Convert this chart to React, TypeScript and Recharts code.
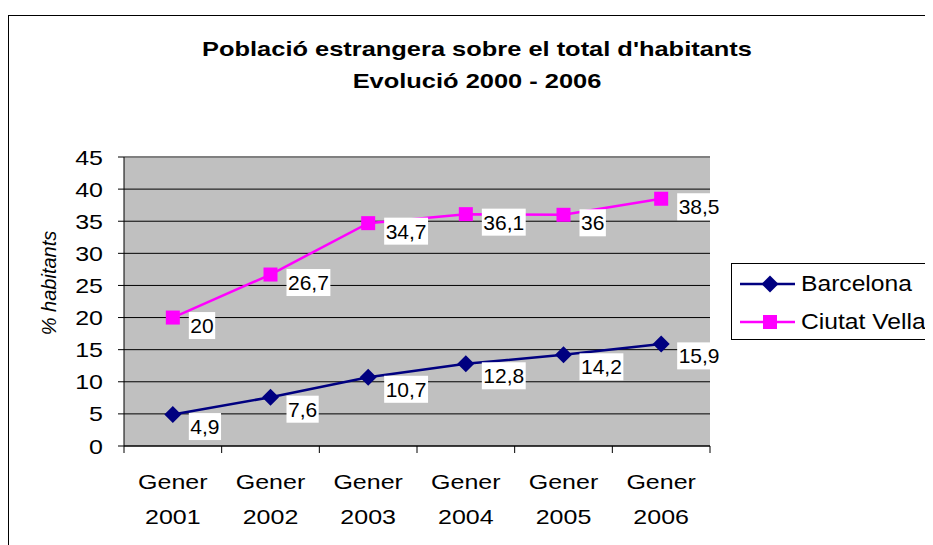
import React from 'react';
import { LineChart, Line, XAxis, YAxis, CartesianGrid, Legend, LabelList, ReferenceLine } from 'recharts';

const categories = ['Gener 2001', 'Gener 2002', 'Gener 2003', 'Gener 2004', 'Gener 2005', 'Gener 2006'];
const barcelona = [4.9, 7.6, 10.7, 12.8, 14.2, 15.9];
const ciutatVella = [20, 26.7, 34.7, 36.1, 36, 38.5];
const yTicks = [0, 5, 10, 15, 20, 25, 30, 35, 40, 45];

const chartData = categories.map((name, i) => ({
  name,
  barcelona: barcelona[i],
  ciutatVella: ciutatVella[i],
}));

const FONT = 'Arial, "Liberation Sans", sans-serif';
const NAVY = '#000080';
const MAGENTA = '#FF00FF';
const BAND = 586 / 6;
const STRETCH = 1.19;

const Diamond = (props: any) => {
  const { cx, cy } = props;
  if (cx == null || cy == null) return null;
  return <polygon points={`${cx},${cy - 8.5} ${cx + 8.5},${cy} ${cx},${cy + 8.5} ${cx - 8.5},${cy}`} fill={NAVY} />;
};

const Square = (props: any) => {
  const { cx, cy } = props;
  if (cx == null || cy == null) return null;
  return <rect x={cx - 7} y={cy - 7} width={14} height={14} fill={MAGENTA} />;
};

const textWidth = (s: string) =>
  s.split('').reduce((w, c) => w + (c === ',' ? 5.84 : 11.68), 0);

const makeLabel = (dy: number) => (props: any) => {
  const { x, y, value } = props;
  const txt = String(value).replace('.', ',');
  const w = textWidth(txt) + 3;
  const left = x + 16;
  const cy = y + dy;
  return (
    <g>
      <rect x={left} y={cy - 13.5} width={w} height={27} fill="#fff" />
      <text x={left + 1.5} y={cy + 7.5} fontSize={21} fontFamily={FONT} fill="#000">
        {txt}
      </text>
    </g>
  );
};

// stretched text, like the original Excel rendering
const SText = ({ x, y, anchor, size, children }: any) => (
  <text
    transform={`translate(${x},${y}) scale(${STRETCH},1)`}
    textAnchor={anchor}
    fontSize={size}
    fontFamily={FONT}
    fill="#000"
  >
    {children}
  </text>
);

const XTick = (props: any) => {
  const { x, y, payload, index } = props;
  const [l1, l2] = String(payload.value).split(' ');
  return (
    <g>
      <line x1={x - BAND / 2} y1={y} x2={x - BAND / 2} y2={y + 7} stroke="#000" />
      {index === categories.length - 1 && (
        <line x1={x + BAND / 2} y1={y} x2={x + BAND / 2} y2={y + 7} stroke="#000" />
      )}
      <SText x={x} y={y + 43} anchor="middle" size={21}>{l1}</SText>
      <SText x={x} y={y + 78} anchor="middle" size={21}>{l2}</SText>
    </g>
  );
};

const YTick = (props: any) => {
  const { x, y, payload } = props;
  return <SText x={x} y={y + 7.5} anchor="end" size={21}>{payload.value}</SText>;
};

const LegendBox = () => (
  <div
    style={{
      border: '1px solid #000',
      width: 230,
      height: 75,
      background: '#fff',
      fontFamily: FONT,
      fontSize: 22,
      position: 'relative',
    }}
  >
    {[
      { label: 'Barcelona', color: NAVY, top: 20, shape: 'diamond' },
      { label: 'Ciutat Vella', color: MAGENTA, top: 58, shape: 'square' },
    ].map((e) => (
      <div key={e.label}>
        <svg width={60} height={20} style={{ position: 'absolute', left: 8, top: e.top - 10 }}>
          <line x1={0} y1={10} x2={55} y2={10} stroke={e.color} strokeWidth={2.5} />
          {e.shape === 'diamond' ? (
            <polygon points="30,1.5 38.5,10 30,18.5 21.5,10" fill={e.color} />
          ) : (
            <rect x={23} y={3} width={14} height={14} fill={e.color} />
          )}
        </svg>
        <span
          style={{
            position: 'absolute',
            left: 69,
            top: e.top - 13,
            lineHeight: '26px',
            whiteSpace: 'nowrap',
            transform: 'scaleX(1.12)',
            transformOrigin: 'left center',
          }}
        >
          {e.label}
        </span>
      </div>
    ))}
  </div>
);

export default function App() {
  return (
    <div
      style={{
        position: 'relative',
        marginTop: 7,
        width: 925,
        height: 530,
        borderLeft: '1px solid #000',
        borderTop: '1px solid #000',
        boxSizing: 'border-box',
        overflow: 'hidden',
        background: '#fff',
      }}
    >
      <div
        style={{
          position: 'absolute',
          left: 68,
          width: 800,
          top: 17,
          textAlign: 'center',
          fontFamily: FONT,
          fontWeight: 'bold',
          fontSize: 20.5,
          lineHeight: '32px',
          color: '#000',
          transform: 'scaleX(1.24)',
          transformOrigin: '400px 0',
        }}
      >
        <div>Població estrangera sobre el total d'habitants</div>
        <div>Evolució 2000 - 2006</div>
      </div>
      <div style={{ position: 'absolute', left: -1, top: -1 }}>
        <LineChart
          width={925}
          height={530}
          data={chartData}
          margin={{ top: 142, right: 223, bottom: 9, left: 0 }}
        >
          <CartesianGrid vertical={false} stroke="#000" fill="#C0C0C0" fillOpacity={1} />
          <XAxis
            dataKey="name"
            height={90}
            padding={{ left: BAND / 2, right: BAND / 2 }}
            axisLine={{ stroke: '#000' }}
            tickLine={false}
            tickSize={0}
            tickMargin={0}
            interval={0}
            tick={<XTick />}
          />
          <YAxis
            width={116}
            domain={[0, 45]}
            ticks={yTicks}
            interval={0}
            axisLine={{ stroke: '#000' }}
            tickLine={{ stroke: '#000' }}
            tickSize={6}
            tickMargin={15}
            tick={<YTick />}
            label={{
              content: () => (
                <text
                  x={41}
                  y={268}
                  transform="rotate(-90 41 268)"
                  textAnchor="middle"
                  dominantBaseline="central"
                  fontSize={20}
                  fontStyle="italic"
                  fontFamily={FONT}
                  fill="#000"
                >
                  % habitants
                </text>
              ),
            }}
          />
          <YAxis
            yAxisId="frame"
            orientation="right"
            width={0}
            domain={[0, 45]}
            tick={false}
            tickLine={false}
            axisLine={{ stroke: '#808080', strokeWidth: 2 }}
          />
          <ReferenceLine y={45} stroke="#808080" strokeWidth={2} />
          <Legend
            layout="horizontal"
            verticalAlign="middle"
            align="center"
            content={<LegendBox />}
            wrapperStyle={{ position: 'absolute', left: 723, top: 248, width: 230 }}
          />
          <Line
            dataKey="barcelona"
            name="Barcelona"
            stroke={NAVY}
            strokeWidth={2.5}
            dot={<Diamond />}
            activeDot={false}
            isAnimationActive={false}
          >
            <LabelList dataKey="barcelona" content={makeLabel(12)} />
          </Line>
          <Line
            dataKey="ciutatVella"
            name="Ciutat Vella"
            stroke={MAGENTA}
            strokeWidth={2.5}
            dot={<Square />}
            activeDot={false}
            isAnimationActive={false}
          >
            <LabelList dataKey="ciutatVella" content={makeLabel(8)} />
          </Line>
        </LineChart>
      </div>
    </div>
  );
}
